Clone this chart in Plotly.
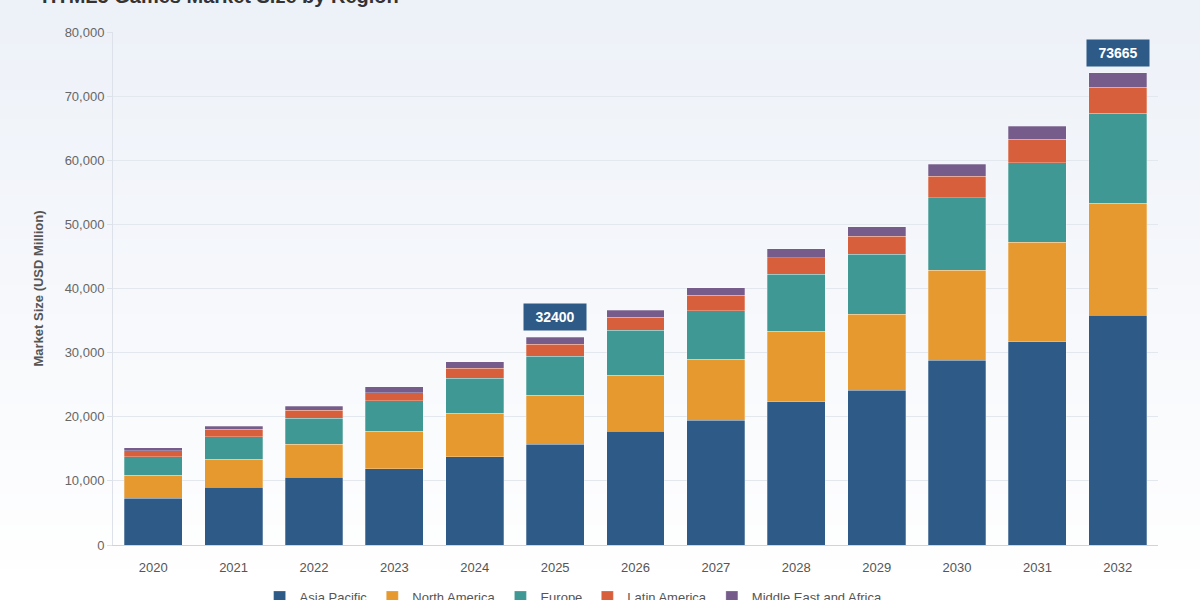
import plotly.graph_objects as go

years = [2020, 2021, 2022, 2023, 2024, 2025, 2026, 2027, 2028, 2029, 2030, 2031, 2032]
asia_pacific = [7280, 9040, 10550, 11900, 13770, 15700, 17770, 19490, 22340, 24160, 28840, 31700, 35860]
north_america = [3630, 4370, 5150, 5830, 6760, 7640, 8730, 9510, 11020, 11800, 14030, 15490, 17410]
europe = [2850, 3480, 4050, 4770, 5460, 6130, 7020, 7530, 8840, 9360, 11270, 12410, 14030]
latin_america = [940, 1150, 1300, 1250, 1560, 1820, 1980, 2390, 2590, 2800, 3380, 3650, 4050]
middle_east_africa = [470, 510, 620, 940, 1040, 1110, 1140, 1190, 1400, 1500, 1830, 2070, 2315]
labelled_years = [2025, 2032]

series = [
    ('Asia Pacific', asia_pacific, '#2d5a87'),
    ('North America', north_america, '#e5992f'),
    ('Europe', europe, '#3f9894'),
    ('Latin America', latin_america, '#d85f3c'),
    ('Middle East and Africa', middle_east_africa, '#755c8b'),
]

font = 'Liberation Sans, Arial, sans-serif'

fig = go.Figure()
for name, vals, col in series:
    fig.add_trace(go.Bar(x=years, y=vals, name=name,
                         marker=dict(color=col, line=dict(color='rgba(255,255,255,0.45)', width=0.6))))

totals = [sum(v) for v in zip(asia_pacific, north_america, europe, latin_america, middle_east_africa)]
for yr, tot in zip(years, totals):
    if yr in labelled_years:
        fig.add_annotation(x=yr, y=tot, text='<b>%d</b>' % tot, showarrow=False,
                           yanchor='bottom', yshift=6, width=52, height=16, borderpad=5,
                           bgcolor='#2d5a87', font=dict(family=font, size=14, color='white'))

# page title, mostly cut off at the top
fig.add_annotation(xref='paper', yref='paper', x=-0.0699, y=1.0702, xanchor='left', yanchor='middle',
                   text='<b>HTML5 Games Market Size by Region</b>', showarrow=False,
                   font=dict(family=font, size=20, color='#333333'))

# vertical background gradient, drawn as thin bands behind everything
n_bands = 40
top_rgb, bot_rgb = (237, 241, 248), (255, 255, 255)
y_top, y_bot = 1.0624, -0.1072
for i in range(n_bands):
    t = i / (n_bands - 1)
    rgb = tuple(round(a + (b - a) * t) for a, b in zip(top_rgb, bot_rgb))
    y0 = y_top + (y_bot - y_top) * i / n_bands
    y1 = y_top + (y_bot - y_top) * (i + 1) / n_bands
    fig.add_shape(type='rect', xref='paper', yref='paper', x0=-0.11, x1=1.05, y0=y1, y1=y0 + 0.001,
                  fillcolor='rgb(%d,%d,%d)' % rgb, line=dict(width=0), layer='below')

fig.update_layout(
    barmode='stack',
    bargap=0.28,
    width=1200, height=600,
    margin=dict(l=113, r=42, t=32, b=55),
    paper_bgcolor='white',
    plot_bgcolor='rgba(0,0,0,0)',
    font=dict(family=font, size=13, color='#555555'),
    showlegend=True,
    legend=dict(orientation='h', traceorder='normal', xref='container', yref='container',
                xanchor='center', x=0.478, yanchor='middle', y=0.005,
                font=dict(size=13, color='#555555'), bgcolor='rgba(0,0,0,0)'),
)
fig.update_yaxes(range=[0, 80000], dtick=10000, tickformat=',', showgrid=True, gridcolor='#e3e7ee',
                 gridwidth=1, zeroline=False, showline=True, linecolor='#dde2ea', ticks='outside',
                 ticklen=5, tickcolor='#dde2ea', tickfont=dict(size=13, color='#666666'),
                 automargin=False,
                 title=dict(text='<b>Market Size (USD Million)</b>', standoff=18,
                            font=dict(size=13, color='#555555')))
fig.update_xaxes(type='linear', range=[2019.5, 2032.5], tickmode='array', tickvals=years,
                 ticktext=[str(y) for y in years], showgrid=False, showline=True, linecolor='#cfd4dc',
                 ticks='', zeroline=False, ticklabelstandoff=10, automargin=False,
                 tickfont=dict(size=13, color='#555555'))

fig.write_html("out.html", config={'displayModeBar': False},
               post_script="document.body.style.margin='0';")
